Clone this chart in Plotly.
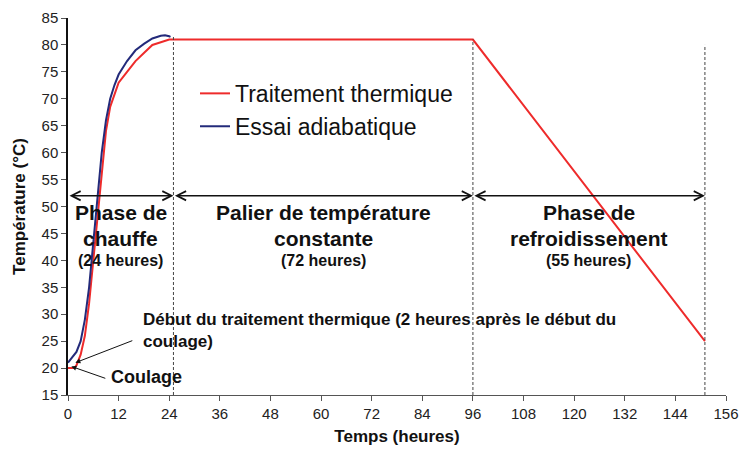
import plotly.graph_objects as go

# Traitement thermique (red)
red_t = [0, 1.5, 2, 3, 4, 5, 6, 7, 8, 9, 10, 12, 14, 16, 18, 20, 22, 24, 96, 151]
red_T = [20, 20, 20.5, 22.5, 26, 32, 40, 48, 57, 64, 68.5, 73, 75, 77, 78.5, 80, 80.5, 81, 81, 25]

# Essai adiabatique (blue)
blue_t = [0, 1, 2, 3, 4, 5, 6, 7, 8, 9, 10, 11, 12, 14, 16, 18, 20, 22, 23, 24, 24.3]
blue_T = [21, 22, 23, 25, 29, 35, 43, 51, 60, 66, 70, 72.5, 74.5, 77, 79, 80.2, 81.2, 81.7, 81.8, 81.6, 81.5]

phase_bounds = [0, 25, 96, 151]
dash_tops = [81.5, 81, 80]
arrow_level = 52
phase_line1 = ["Phase de", "Palier de température", "Phase de"]
phase_line2 = ["chauffe", "constante", "refroidissement"]
phase_durations = ["(24 heures)", "(72 heures)", "(55 heures)"]
x_ticks = list(range(0, 157, 12))
y_ticks = list(range(15, 86, 5))

FONT = "Liberation Sans, Arial"

fig = go.Figure()
fig.add_trace(go.Scatter(x=red_t, y=red_T, mode="lines", name="Traitement thermique",
                         line=dict(color="#ee2b2b", width=2)))
fig.add_trace(go.Scatter(x=blue_t, y=blue_T, mode="lines", name="Essai adiabatique",
                         line=dict(color="#232a7a", width=2)))

for xb, top in zip(phase_bounds[1:], dash_tops):
    fig.add_shape(type="line", x0=xb, x1=xb, y0=15, y1=top, xref="x", yref="y",
                  line=dict(color="#444444", width=1, dash="3px,2px"))

for i in range(3):
    x0, x1 = phase_bounds[i], phase_bounds[i + 1]
    fig.add_annotation(x=x1, y=arrow_level, ax=x0, ay=arrow_level, axref="x", ayref="y",
                       xref="x", yref="y", text="", showarrow=True, arrowside="end+start",
                       arrowhead=5, arrowsize=1.2, arrowwidth=1.5, arrowcolor="#111111")
    xm = (x0 + x1) / 2
    for txt, yv, sz in ((phase_line1[i], 48.8, 21), (phase_line2[i], 44.15, 21),
                        (phase_durations[i], 39.9, 16)):
        fig.add_annotation(x=xm, y=yv, xref="x", yref="y", text="<b>" + txt + "</b>",
                           showarrow=False, yanchor="middle",
                           font=dict(family=FONT, size=sz, color="#111111"))

fig.add_annotation(x=1.75, y=21, xref="x", yref="y", ax=15.6, ay=25.2, axref="x", ayref="y",
                   text="", showarrow=True, arrowhead=2, arrowsize=1, arrowwidth=1, arrowcolor="#111111")
fig.add_annotation(x=17.3, y=27.0, xref="x", yref="y", xanchor="left", yanchor="middle",
                   text="<b>Début du traitement thermique (2 heures après le début du<br>coulage)</b>",
                   align="left", showarrow=False,
                   font=dict(family=FONT, size=17, color="#111111"))
fig.add_annotation(x=0.8, y=20.3, xref="x", yref="y", ax=9.2, ay=18.0, axref="x", ayref="y",
                   text="", showarrow=True, arrowhead=2, arrowsize=1, arrowwidth=1, arrowcolor="#111111")
fig.add_annotation(x=9.8, y=18.4, xref="x", yref="y", xanchor="left", yanchor="middle",
                   text="<b>Coulage</b>",
                   showarrow=False, font=dict(family=FONT, size=18, color="#111111"))

fig.update_layout(
    width=741, height=457,
    margin=dict(l=68, r=15, t=18, b=62),
    paper_bgcolor="white", plot_bgcolor="white",
    font=dict(family=FONT, size=15, color="#222222"),
    showlegend=True,
    legend=dict(x=0.193, y=0.857, xanchor="left", yanchor="top", bgcolor="rgba(0,0,0,0)",
                font=dict(size=23, color="#111111"), itemwidth=30, tracegroupgap=4),
    xaxis=dict(range=[0, 156], tickvals=x_ticks, showgrid=False, zeroline=False,
               showline=True, linecolor="#555555", linewidth=1, ticks="outside", ticklen=5,
               tickcolor="#555555", automargin=False,
               title=dict(text="<b>Temps (heures)</b>", font=dict(size=17, color="#111111"), standoff=9)),
    yaxis=dict(range=[15, 85], tickvals=y_ticks, showgrid=False, zeroline=False,
               showline=True, linecolor="#111111", linewidth=1.5, ticks="outside", ticklen=5,
               tickcolor="#555555", automargin=False,
               title=dict(text="<b>Température (°C)</b>", font=dict(size=17, color="#111111"), standoff=12)),
)

fig.write_html("out.html", config={"displayModeBar": False},
               post_script="document.body.style.margin='0px';document.body.style.overflow='hidden';")
